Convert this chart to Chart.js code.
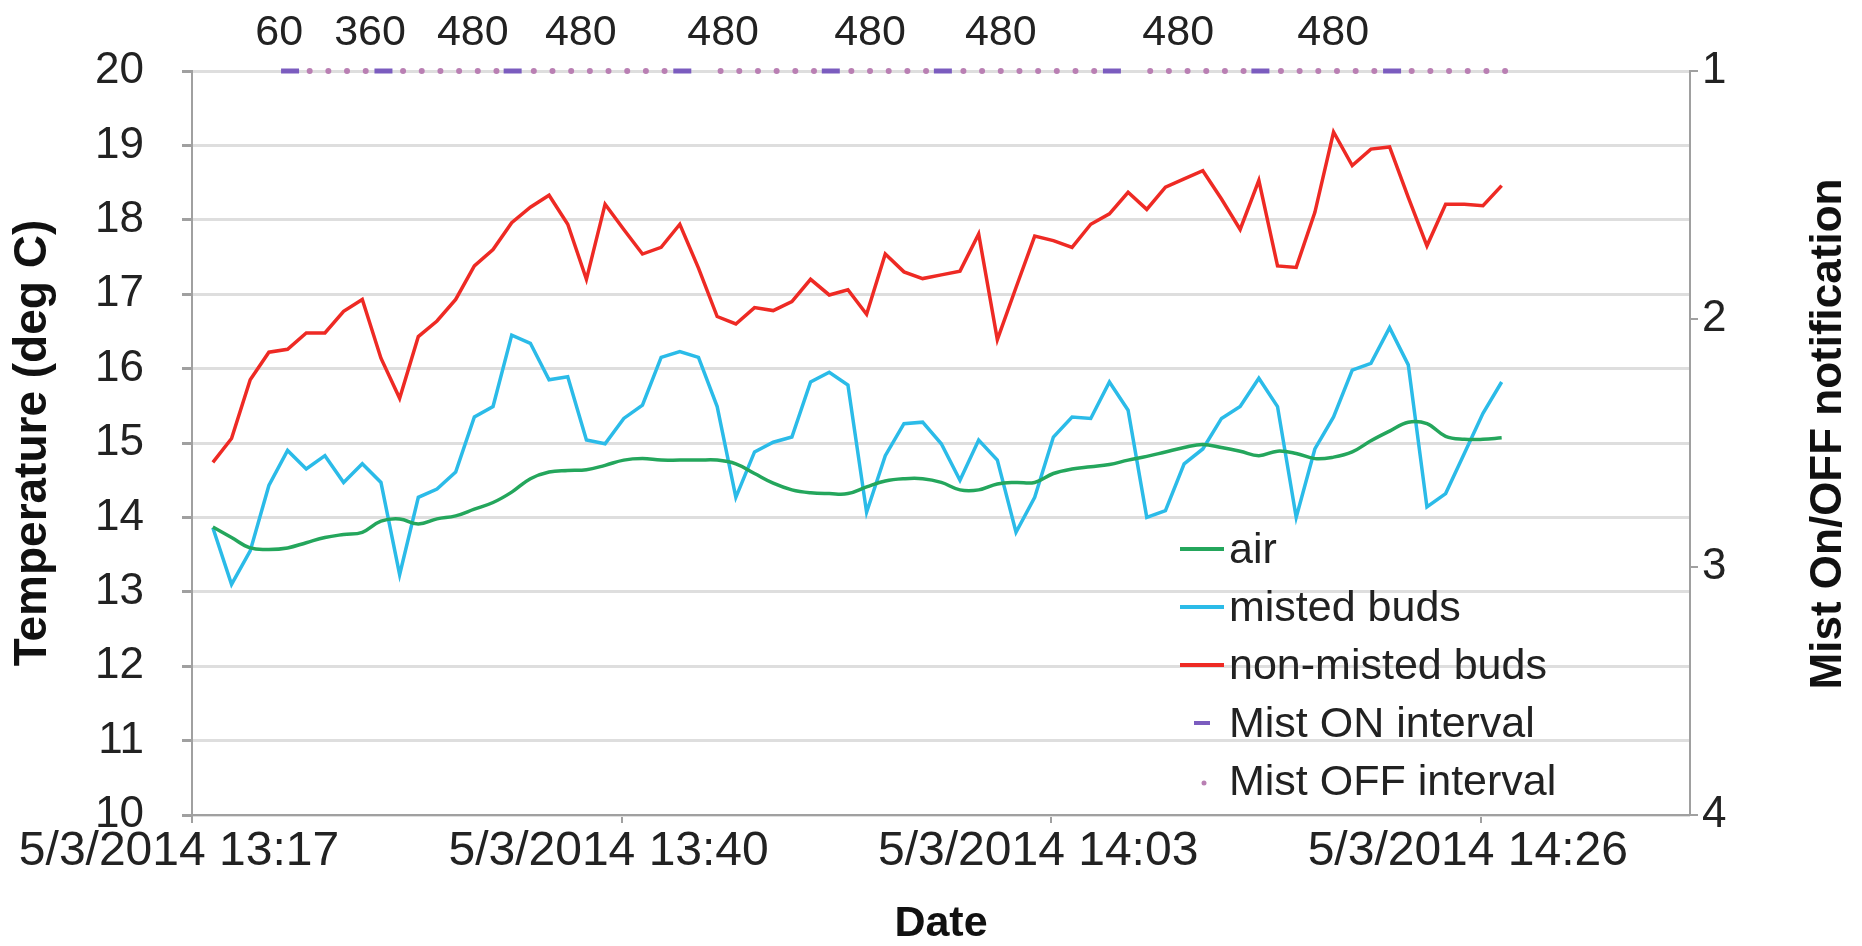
<!DOCTYPE html>
<html>
<head>
<meta charset="utf-8">
<script src="https://cdn.jsdelivr.net/npm/chart.js@4/dist/chart.umd.min.js"></script>
<style>
body{margin:0;background:#fff;}
canvas{display:block;}
</style>
</head>
<body>
<canvas id="mainCanvas" width="1862" height="946"></canvas>
<script>
// sample times (one reading a minute), 5/3/2014
var times = ['13:18:07','13:19:07','13:20:07','13:21:07','13:22:07','13:23:07','13:24:07','13:25:07','13:26:07','13:27:07',
  '13:28:07','13:29:07','13:30:07','13:31:07','13:32:07','13:33:07','13:34:07','13:35:07','13:36:07','13:37:07',
  '13:38:07','13:39:07','13:40:07','13:41:07','13:42:07','13:43:07','13:44:07','13:45:07','13:46:07','13:47:07',
  '13:48:07','13:49:07','13:50:07','13:51:07','13:52:07','13:53:07','13:54:07','13:55:07','13:56:07','13:57:07',
  '13:58:07','13:59:07','14:00:07','14:01:07','14:02:07','14:03:07','14:04:07','14:05:07','14:06:07','14:07:07',
  '14:08:07','14:09:07','14:10:07','14:11:07','14:12:07','14:13:07','14:14:07','14:15:07','14:16:07','14:17:07',
  '14:18:07','14:19:07','14:20:07','14:21:07','14:22:07','14:23:07','14:24:07','14:25:07','14:26:07','14:27:07'];

var air = [13.87,13.73,13.59,13.57,13.59,13.66,13.73,13.77,13.80,13.95,
  13.98,13.91,13.98,14.02,14.11,14.20,14.34,14.52,14.61,14.63,
  14.64,14.70,14.77,14.79,14.77,14.77,14.77,14.77,14.72,14.59,
  14.46,14.37,14.33,14.32,14.32,14.41,14.49,14.52,14.52,14.47,
  14.37,14.37,14.45,14.47,14.47,14.59,14.65,14.68,14.71,14.77,
  14.82,14.88,14.94,14.98,14.94,14.89,14.83,14.89,14.86,14.79,
  14.81,14.88,15.03,15.16,15.28,15.26,15.09,15.05,15.05,15.07];

var misted = [13.86,13.10,13.55,14.43,14.90,14.65,14.83,14.47,14.72,14.47,
  13.23,14.27,14.38,14.61,15.35,15.49,16.45,16.34,15.85,15.89,
  15.04,14.99,15.33,15.51,16.15,16.23,16.15,15.49,14.27,14.88,
  15.01,15.08,15.82,15.95,15.78,14.07,14.83,15.26,15.28,14.99,
  14.50,15.04,14.77,13.80,14.27,15.08,15.35,15.33,15.82,15.44,
  14.00,14.09,14.72,14.92,15.33,15.49,15.87,15.49,14.00,14.92,
  15.35,15.98,16.07,16.55,16.05,14.14,14.32,14.86,15.40,15.82];

var nonMisted = [14.74,15.06,15.85,16.22,16.26,16.48,16.48,16.77,16.93,16.14,
  15.60,16.43,16.64,16.93,17.38,17.60,17.96,18.17,18.33,17.94,
  17.20,18.21,17.87,17.54,17.63,17.94,17.35,16.70,16.60,16.82,
  16.78,16.90,17.20,16.99,17.06,16.73,17.54,17.30,17.21,17.26,
  17.31,17.81,16.39,17.09,17.78,17.72,17.63,17.94,18.08,18.37,
  18.14,18.44,18.55,18.66,18.28,17.87,18.53,17.38,17.36,18.10,
  19.18,18.73,18.95,18.98,18.30,17.65,18.21,18.21,18.19,18.46];

// mist notifications (plotted at 1 on the right axis)
var mistOn = ['13:22:15','13:27:15','13:34:10','13:43:15','13:51:12','13:57:12','14:06:15','14:14:12','14:21:15'];
var mistOff = ['13:23:18','13:24:18','13:25:18','13:26:18',
  '13:28:18','13:29:18','13:30:18','13:31:18','13:32:18','13:33:18',
  '13:35:18','13:36:18','13:37:18','13:38:18','13:39:18','13:40:18','13:41:18','13:42:18',
  '13:45:18','13:46:18','13:47:18','13:48:18','13:49:18','13:50:18',
  '13:52:18','13:53:18','13:54:18','13:55:18','13:56:18',
  '13:58:18','13:59:18','14:00:18','14:01:18','14:02:18','14:03:18','14:04:18','14:05:18',
  '14:08:18','14:09:18','14:10:18','14:11:18','14:12:18','14:13:18',
  '14:15:18','14:16:18','14:17:18','14:18:18','14:19:18','14:20:18',
  '14:22:18','14:23:18','14:24:18','14:25:18','14:26:18','14:27:18'];
var intervalText = ['60','360','480','480','480','480','480','480','480'];
var intervalAt = ['13:21:40','13:26:32','13:32:02','13:37:49','13:45:26','13:53:18','14:00:18','14:09:48','14:18:06'];

var xTicks = ['13:17','13:40','14:03','14:26'];
var xStart = '13:17', xEnd = '14:37:12';
var datePrefix = '5/3/2014 ';

function toMin(s){
  var p = s.split(':');
  var m = (+p[0])*60 + (+p[1]) + (p[2] ? (+p[2])/60 : 0);
  var q = xStart.split(':');
  return m - ((+q[0])*60 + (+q[1]));
}
function pts(ts, vals){
  return ts.map(function(t, i){ return {x: toMin(t), y: vals ? vals[i] : 1}; });
}

var FONT = "'Liberation Sans', Arial, sans-serif";
var tickLabel = {};
xTicks.forEach(function(t){ tickLabel[toMin(t)] = datePrefix + t; });

var extras = {
  id: 'extras',
  afterDraw: function(chart){
    var ctx = chart.ctx, ca = chart.chartArea;
    var sx = chart.scales.x, s1 = chart.scales.y1;
    ctx.save();
    // interval numbers above the ON marks
    ctx.fillStyle = '#222';
    ctx.font = '43px ' + FONT;
    ctx.textAlign = 'center';
    ctx.textBaseline = 'middle';
    var ty = s1.getPixelForValue(1) - 38;
    intervalText.forEach(function(txt, i){
      ctx.fillText(txt, sx.getPixelForValue(toMin(intervalAt[i])), ty);
    });
    // legend
    var lx = ca.left + 988, ly = ca.top + 478;
    ctx.textAlign = 'left';
    chart.data.datasets.forEach(function(ds, i){
      var y = ly + i * 58;
      if (ds.showLine === false) {
        if (ds.pointStyle === 'line') {
          ctx.strokeStyle = ds.borderColor; ctx.lineWidth = 4;
          ctx.beginPath(); ctx.moveTo(lx + 14, y); ctx.lineTo(lx + 30, y); ctx.stroke();
        } else {
          ctx.fillStyle = ds.backgroundColor;
          ctx.beginPath(); ctx.arc(lx + 24, y + 2, 2.5, 0, Math.PI * 2); ctx.fill();
        }
      } else {
        ctx.strokeStyle = ds.borderColor; ctx.lineWidth = 4;
        ctx.beginPath(); ctx.moveTo(lx, y); ctx.lineTo(lx + 44, y); ctx.stroke();
      }
      ctx.fillStyle = '#222';
      ctx.fillText(ds.label, lx + 49, y + 2);
    });
    // right axis title, reading upwards like the left one
    ctx.translate(chart.width - 33, (ca.top + ca.bottom) / 2 - 9);
    ctx.rotate(-Math.PI / 2);
    ctx.textAlign = 'center';
    ctx.font = 'bold 44px ' + FONT;
    ctx.fillStyle = '#111';
    ctx.fillText('Mist On/OFF notification', 0, 0);
    ctx.restore();
  }
};

var ctx = document.getElementById('mainCanvas').getContext('2d');
var chart = new Chart(ctx, {
  type: 'line',
  data: {
    datasets: [{
      label: 'air',
      data: pts(times, air),
      borderColor: '#24a65c',
      borderWidth: 3.5,
      pointRadius: 0,
      tension: 0.4,
      yAxisID: 'y'
    }, {
      label: 'misted buds',
      data: pts(times, misted),
      borderColor: '#2bbbe8',
      borderWidth: 3.5,
      pointRadius: 0,
      tension: 0,
      yAxisID: 'y'
    }, {
      label: 'non-misted buds',
      data: pts(times, nonMisted),
      borderColor: '#ee2a24',
      borderWidth: 3.5,
      pointRadius: 0,
      tension: 0,
      yAxisID: 'y'
    }, {
      label: 'Mist ON interval',
      data: pts(mistOn),
      showLine: false,
      pointStyle: 'line',
      pointRadius: 9,
      pointBorderWidth: 5,
      borderColor: '#7b5cbf',
      backgroundColor: '#7b5cbf',
      clip: false,
      yAxisID: 'y1'
    }, {
      label: 'Mist OFF interval',
      data: pts(mistOff),
      showLine: false,
      pointStyle: 'circle',
      pointRadius: 3,
      pointBorderWidth: 0,
      borderColor: '#b97fb3',
      backgroundColor: '#b97fb3',
      clip: false,
      yAxisID: 'y1'
    }]
  },
  options: {
    responsive: false,
    animation: false,
    layout: { padding: { top: 71, left: 0, right: 0, bottom: 0 } },
    plugins: { legend: { display: false }, tooltip: { enabled: false } },
    scales: {
      x: {
        type: 'linear',
        min: toMin(xStart),
        max: toMin(xEnd),
        afterBuildTicks: function(s){ s.ticks = xTicks.map(function(t){ return {value: toMin(t)}; }); },
        afterFit: function(s){ s.height = 131; },
        ticks: {
          callback: function(v){ return tickLabel[v]; },
          font: { size: 48, family: FONT },
          color: '#222',
          padding: 0,
          labelOffset: -13,
          maxRotation: 0,
          autoSkip: false
        },
        grid: { drawOnChartArea: false, tickLength: 8, tickColor: '#a0a0a0', lineWidth: 2 },
        border: { color: '#a0a0a0', width: 2 },
        title: { display: true, text: 'Date', font: { size: 43, weight: 'bold', family: FONT, lineHeight: 1 }, color: '#111', padding: { top: 0, bottom: 0 } }
      },
      y: {
        position: 'left',
        min: 10,
        max: 20,
        afterFit: function(s){ s.width = 192; },
        ticks: { stepSize: 1, font: { size: 44, family: FONT }, color: '#222', padding: 38 },
        grid: { color: '#dedede', lineWidth: 3, tickLength: 10, tickColor: '#a0a0a0' },
        border: { color: '#a0a0a0', width: 2 },
        title: { display: true, text: 'Temperature (deg C)', font: { size: 46, weight: 'bold', family: FONT }, color: '#111', padding: { top: 6, bottom: 0 } }
      },
      y1: {
        position: 'right',
        reverse: true,
        min: 1,
        max: 4,
        afterFit: function(s){ s.width = 172; },
        ticks: { stepSize: 1, font: { size: 44, family: FONT }, color: '#222', padding: 4 },
        grid: { drawOnChartArea: false, tickLength: 8, tickColor: '#a0a0a0', lineWidth: 2 },
        border: { color: '#a0a0a0', width: 2 }
      }
    }
  },
  plugins: [extras]
});
</script>
</body>
</html>
